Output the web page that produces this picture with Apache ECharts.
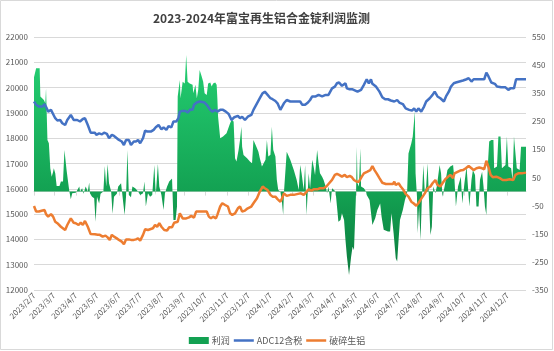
<!DOCTYPE html>
<html>
<head>
<meta charset="utf-8">
<script src="https://cdn.jsdelivr.net/npm/echarts@6/dist/echarts.min.js"></script>
<style>
  html, body { margin: 0; padding: 0; background: #fff; }
  .chart { width: 554px; height: 351px; }
</style>
</head>
<body>
<div class="chart"></div>
<script>
// x 值为自 2023/2/7 起的天数
var startDate = '2023-02-07';
var endDate = '2025-01-02';

var profit = [
  [0,407],[2,407],[3,439],[8,439],[9,338],[14,326],[16,314],[17,368],[19,184],[21,172],[23,83],[24,89],[25,53],[27,71],[28,83],[30,65],[32,20],[36,20],[38,36],[41,36],[43,148],[46,77],[49,18],[50,0],[52,-27],[54,-6],[59,-4],[64,18],[65,0],[68,12],[70,-8],[73,18],[76,0],[78,32],[79,-6],[82,-18],[85,-24],[87,-107],[89,-18],[92,-42],[94,-8],[98,0],[100,91],[102,18],[104,98],[106,30],[109,0],[111,-79],[113,-18],[117,-8],[119,18],[123,30],[125,36],[128,-83],[130,-18],[132,148],[134,-12],[137,-20],[139,18],[143,12],[145,18],[147,0],[150,-12],[154,-6],[156,36],[158,-53],[161,-6],[164,-18],[167,-12],[170,95],[172,-12],[173,-18],[175,98],[177,18],[180,-12],[183,-65],[185,-6],[188,18],[191,36],[195,47],[197,-101],[200,-101],[202,-53],
  [203,338],[206,397],[207,332],[210,391],[213,385],[215,486],[217,391],[220,385],[224,380],[225,350],[228,380],[230,332],[232,362],[234,433],[237,409],[239,391],[241,350],[244,344],[246,385],[249,388],[251,374],[253,385],[256,388],[258,380],[259,332],[260,267],[263,190],[267,196],[272,208],[277,243],[279,255],[282,249],[284,119],[286,107],[289,148],[291,184],[293,231],[294,160],[296,130],[301,119],[305,107],[308,101],[310,184],[312,172],[315,154],[317,142],[319,119],[322,89],[324,83],[327,113],[329,184],[331,125],[334,131],[336,231],[338,148],[341,125],[343,42],[345,6],[348,0],[350,-30],[352,-83],[353,-6],[357,142],[362,113],[367,77],[371,42],[374,6],[376,95],[378,65],[381,6],[383,95],[385,-83],[388,65],[390,12],[393,113],[395,89],[397,59],[400,148],[402,101],[404,65],[407,53],[409,42],[412,18],[414,-6],[416,18],[419,-42],[421,12],[423,18],[426,0],
  [428,-53],[430,-107],[433,-101],[435,-77],[438,-101],[440,-172],[442,-231],[445,-297],[446,-302],[448,-231],[450,-196],
  [452,-208],[455,0],[456,160],[457,30],[459,18],[461,154],[462,18],[466,12],[469,0],[470,-12],[472,-6],[474,-30],[478,-119],[482,-95],[485,-65],[489,-42],[491,-89],[494,-136],[500,-142],[503,-142],[505,-77],[508,-148],[511,-237],[513,-249],[515,-172],[517,-101],[521,-65],[524,-30],[527,-6],[529,136],[533,172],[535,196],[538,285],[539,65],[541,-18],[542,-148],[544,-53],[546,-172],[548,-18],[550,95],[552,0],[554,18],[556,101],[558,-30],[560,-154],[562,-125],[564,18],[567,-6],[569,18],[573,95],[575,65],[577,-18],[580,18],[584,77],[588,89],[592,95],[594,42],[596,-53],[599,18],[603,53],[605,-42],[608,30],[611,89],[613,18],[615,-53],[618,42],[620,77],[623,59],[625,-53],[628,-53],[630,42],[633,71],[635,18],[637,-53],[639,-83],[641,89],[643,178],[646,184],[649,184],[650,83],[654,89],[656,196],[659,196],[661,83],[666,95],[668,196],[670,89],[674,83],[676,42],[678,196],[680,196],[682,83],[686,77],[688,160],[695,160]
];

var adc12 = [
  [0,19450],[3,19320],[7,19250],[12,19250],[15,19350],[18,19180],[20,19050],[24,19120],[26,19050],[30,18790],[33,18700],[37,18720],[40,18590],[44,18520],[47,18720],[52,18920],[56,18720],[61,18720],[65,18660],[69,18760],[72,18790],[76,18520],[80,18220],[86,18220],[88,18130],[92,18190],[96,18150],[99,18220],[103,18170],[106,18000],[110,18130],[113,18090],[117,18000],[120,17930],[124,17870],[127,17730],[130,17930],[134,17930],[137,17730],[141,17870],[144,17870],[147,17930],[150,17800],[154,18000],[157,18300],[160,18260],[165,18260],[169,18330],[172,18430],[176,18520],[180,18350],[183,18430],[187,18330],[190,18480],[194,18430],[197,18660],[201,18660],[204,18790],[206,19050],[210,19080],[214,19080],[217,19010],[221,19140],[224,19120],
  [226,19320],[230,19410],[234,19450],[241,19410],[244,19320],[249,19120],[252,19050],[256,19120],[259,19050],[263,19120],[267,19120],[271,19050],[275,18960],[279,18720],[283,18830],[288,18880],[291,18790],[294,18850],[298,18720],[302,18850],[307,18920],[310,19120],[315,19380],[319,19580],[323,19780],[326,19840],[330,19710],[334,19580],[337,19540],[341,19470],[344,19380],[348,19120],[350,19050],[353,19380],[357,19510],[362,19450],[369,19450],[376,19450],[379,19320],[383,19320],[387,19410],[390,19510],[393,19650],[395,19710],[398,19650],[402,19710],[407,19650],[412,19710],[416,19710],[421,19970],[425,20040],[428,20170],[431,20200],[435,20070],[440,20170],[442,19970],[446,19930],[450,19930],
  [452,19930],[457,19840],[462,19910],[466,20110],[470,20330],[473,20170],[476,20330],[478,20150],[483,20040],[488,19840],[492,19620],[496,19540],[500,19540],[504,19490],[509,19450],[513,19510],[516,19410],[521,19350],[525,19180],[530,19120],[534,19090],[537,19180],[540,19050],[543,19180],[547,19050],[551,19250],[554,19450],[559,19580],[563,19710],[566,19840],[570,19650],[574,19580],[579,19450],[582,19650],[586,19840],[589,20040],[593,20170],[596,20200],[601,20240],[606,20280],[611,20330],[614,20370],[618,20240],[621,20330],[626,20330],[632,20330],[636,20330],[639,20590],[642,20440],[646,20200],[651,20150],[654,20040],[660,20010],[666,20010],[670,19910],[673,19970],[678,19970],[681,20330],[688,20330],[695,20330]
];

var scrap = [
  [0,15320],[3,15100],[7,15100],[12,15140],[15,15160],[17,15000],[20,14900],[24,15000],[27,14900],[30,14700],[33,14640],[38,14500],[40,14440],[44,14370],[47,14570],[52,14830],[56,14660],[59,14640],[63,14570],[66,14660],[69,14570],[72,14730],[76,14500],[80,14210],[86,14200],[90,14180],[93,14180],[97,14110],[101,14150],[104,14080],[107,13980],[110,14180],[113,14110],[117,14040],[120,13980],[124,13910],[127,13810],[130,14000],[134,14000],[137,13980],[141,13980],[144,14000],[147,14040],[150,13950],[154,14180],[157,14400],[161,14370],[164,14400],[168,14440],[171,14570],[174,14500],[177,14640],[180,14500],[184,14370],[188,14350],[191,14480],[195,14480],[198,14660],[203,14700],[206,15030],[210,14830],[215,14830],[219,14870],[222,14930],[226,14860],[229,15100],
  [234,15100],[239,15100],[244,15100],[247,14900],[250,14830],[253,14900],[257,14830],[259,14970],[263,15300],[266,15430],[270,15360],[274,15300],[277,15030],[280,14970],[284,15030],[288,15230],[291,15300],[294,15100],[298,15140],[302,15230],[307,15300],[310,15430],[315,15630],[319,15890],[323,16090],[326,16020],[330,15950],[334,15760],[337,15690],[341,15690],[344,15590],[348,15490],[350,15590],[353,15820],[357,15720],[362,15760],[367,15760],[373,15800],[377,15820],[381,15760],[384,15850],[388,15980],[392,15930],[395,15980],[400,15980],[404,16020],[409,16020],[413,16090],[416,16190],[421,16350],[425,16550],[428,16590],[431,16550],[435,16480],[439,16550],[442,16460],[446,16510],[449,16460],
  [452,16350],[456,16280],[459,16280],[463,16480],[466,16610],[471,16680],[475,16740],[478,16900],[481,16740],[484,16610],[488,16420],[492,16240],[497,16190],[502,16190],[507,16190],[509,16280],[511,16150],[515,16220],[518,16090],[522,15950],[525,15800],[529,15690],[533,15490],[536,15430],[540,15330],[543,15430],[546,15560],[549,15690],[552,15820],[556,16020],[560,16090],[563,16220],[567,16350],[570,16150],[574,16090],[577,16220],[581,16380],[585,16480],[588,16550],[592,16420],[594,16610],[599,16680],[602,16720],[606,16740],[610,16810],[614,16900],[618,16810],[621,16740],[625,16810],[629,16840],[633,16810],[636,16770],[639,17110],[642,16860],[645,16550],[648,16460],[653,16480],[658,16420],[662,16350],[667,16350],[672,16380],[677,16350],[680,16550],[684,16610],[689,16610],[695,16640]
];

(function(){
    var myChart = echarts.init(document.querySelector('.chart'));

    // 日期类目：每天一个
    var days = [];
    var t = new Date(startDate + 'T00:00:00Z');
    var tEnd = new Date(endDate + 'T00:00:00Z');
    while (t <= tEnd) {
      days.push(t.getUTCFullYear() + '/' + (t.getUTCMonth() + 1) + '/' + t.getUTCDate());
      t = new Date(t.getTime() + 86400000);
    }
    var isSeventh = function (idx, val) { return val.split('/')[2] === '7'; };
    var plain = function (v) { return String(v); };

    var font = 'Noto Sans CJK SC';
    var gray = '#595959';
    // 图例里的细线
    var lineIcon = 'path://M0,0L40,0L40,5L0,5Z';

    var option = {
      animation: false,
      title: {
        text: '2023-2024年富宝再生铝合金锭利润监测',
        left: 148,
        top: 7,
        textStyle: { fontSize: 12, fontWeight: 'bold', color: '#404040', fontFamily: font }
      },
      legend: {
        top: 331,
        left: 'center',
        itemWidth: 20,
        itemHeight: 7,
        itemGap: 4,
        textStyle: { fontSize: 9, color: gray, fontFamily: font, padding: [0, 0, 0, -2] },
        data: [
          { name: '利润', icon: 'rect' },
          { name: 'ADC12含税', icon: lineIcon },
          { name: '破碎生铝', icon: lineIcon }
        ]
      },
      grid: { left: 34, right: 28, top: 37, bottom: 61 },
      xAxis: {
        type: 'category',
        data: days,
        boundaryGap: false,
        axisLine: { lineStyle: { color: '#d9d9d9' } },
        axisTick: { interval: isSeventh, length: 4, lineStyle: { color: '#d9d9d9' } },
        axisLabel: {
          interval: isSeventh,
          rotate: 45,
          fontSize: 8,
          margin: 4,
          color: gray,
          fontFamily: font
        }
      },
      yAxis: [
        {
          type: 'value',
          min: 12000,
          max: 22000,
          interval: 1000,
          axisLine: { show: false },
          axisTick: { show: false },
          axisLabel: { fontSize: 8, color: gray, fontFamily: font, margin: 6, formatter: plain },
          splitLine: { lineStyle: { color: '#d9d9d9' } }
        },
        {
          type: 'value',
          min: -350,
          max: 550,
          interval: 100,
          axisLine: { show: false },
          axisTick: { show: false },
          axisLabel: { fontSize: 8, color: gray, fontFamily: font, margin: 6, formatter: plain },
          splitLine: { show: false }
        }
      ],
      graphic: [{
        type: 'rect',
        shape: { x: 0.5, y: 0.5, width: 552, height: 349 },
        style: { fill: 'none', stroke: '#d9d9d9', lineWidth: 1 },
        silent: true
      }],
      series: [
        {
          name: '利润',
          type: 'line',
          yAxisIndex: 1,
          data: profit,
          symbol: 'none',
          itemStyle: { color: '#13a152' },
          lineStyle: { width: 0 },
          areaStyle: {
            opacity: 1,
            color: new echarts.graphic.LinearGradient(0, 0, 0, 1, [
              { offset: 0, color: '#24cf72' },
              { offset: 0.62, color: '#13a152' },
              { offset: 1, color: '#0b7b3d' }
            ])
          },
          z: 1
        },
        {
          name: 'ADC12含税',
          type: 'line',
          data: adc12,
          symbol: 'none',
          itemStyle: { color: '#4472c4' },
          lineStyle: { width: 2.5, color: '#4472c4' },
          z: 3
        },
        {
          name: '破碎生铝',
          type: 'line',
          data: scrap,
          symbol: 'none',
          itemStyle: { color: '#ed7d31' },
          lineStyle: { width: 2.5, color: '#ed7d31' },
          z: 3
        }
      ]
    };
    myChart.setOption(option);
})();
</script>
</body>
</html>
